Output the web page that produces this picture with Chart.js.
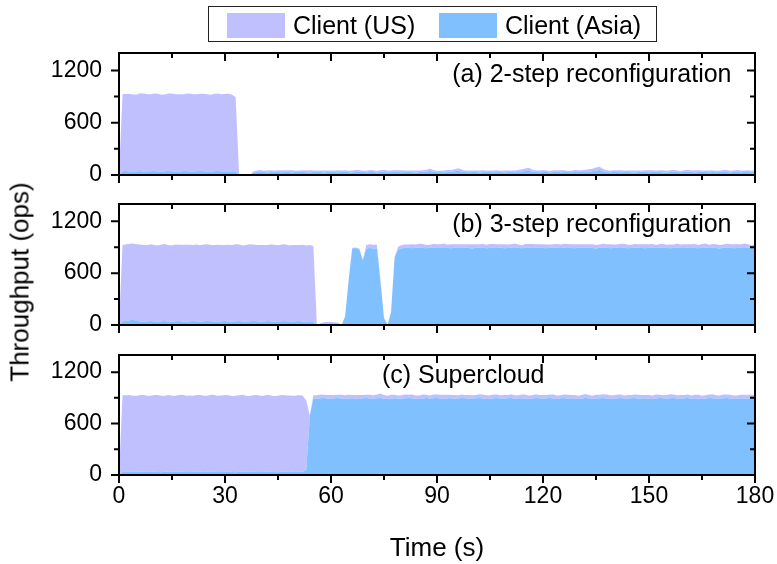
<!DOCTYPE html>
<html lang="en">
<head>
<meta charset="UTF-8">
<title>Throughput during reconfiguration</title>
<script src="https://cdn.jsdelivr.net/npm/chart.js"></script>
<style>
  body { margin: 0; background: #fff; font-family: "Liberation Sans", Arial, sans-serif; }
  #wrap { position: relative; width: 777px; height: 564px; overflow: hidden; }
  #wrap canvas { position: absolute; left: 0; top: 0; }
  .legend {
    position: absolute; left: 208px; top: 6px; width: 447px; height: 34px;
    border: 1.5px solid #222;
  }
  .legend .sw { position: absolute; top: 6px; width: 58px; height: 25px; }
  .legend .lbl { position: absolute; top: 0; line-height: 36px; font-size: 25px; color: #000; white-space: nowrap; }
  .ytitle {
    position: absolute; left: 20px; top: 282px; font-size: 26px; color: #000; white-space: nowrap;
    transform: translate(-50%, -50%) rotate(-90deg);
  }
</style>
</head>
<body>
<div id="wrap">
  <canvas id="p0" width="777" height="564"></canvas>
  <canvas id="p1" width="777" height="564"></canvas>
  <canvas id="p2" width="777" height="564"></canvas>
  <div class="legend" id="legend"></div>
  <div class="ytitle">Throughput (ops)</div>
</div>
<script>
// time axis, one sample per second
const seconds = [
  0,1,2,3,4,5,6,7,8,9,10,11,12,13,14,15,16,17,18,19,
  20,21,22,23,24,25,26,27,28,29,30,31,32,33,34,35,36,37,38,39,
  40,41,42,43,44,45,46,47,48,49,50,51,52,53,54,55,56,57,58,59,
  60,61,62,63,64,65,66,67,68,69,70,71,72,73,74,75,76,77,78,79,
  80,81,82,83,84,85,86,87,88,89,90,91,92,93,94,95,96,97,98,99,
  100,101,102,103,104,105,106,107,108,109,110,111,112,113,114,115,116,117,118,119,
  120,121,122,123,124,125,126,127,128,129,130,131,132,133,134,135,136,137,138,139,
  140,141,142,143,144,145,146,147,148,149,150,151,152,153,154,155,156,157,158,159,
  160,161,162,163,164,165,166,167,168,169,170,171,172,173,174,175,176,177,178,179,
  180
];

const xTicks = [0, 30, 60, 90, 120, 150, 180];
const xMinorTicks = [15, 45, 75, 105, 135, 165];
const yTicks = [0, 600, 1200];
const yMinorTicks = [300, 900];

const seriesNames = ['Client (US)', 'Client (Asia)'];
const US_COLOR = '#c0c0ff';
const ASIA_COLOR = '#80c0ff';

// (a) 2-step reconfiguration: ops/s per client, US stacked on Asia
const asiaA = [
  0,42,45,40,38,44,47,41,39,43, 46,40,37,42,48,44,40,38,43,45,
  41,39,44,46,42,40,38,43,47,44, 41,39,42,40,0,0,0,0,28,33,
  36,34,30,35,38,33,31,36,34,30, 33,37,35,31,29,34,36,33,30,35,
  38,34,31,33,36,32,30,34,37,33, 31,35,34,30,33,36,32,35,38,34,
  31,33,36,32,30,35,37,40,45,36, 32,34,31,35,38,42,48,40,34,31,
  35,33,30,34,37,33,31,35,33,30, 34,36,32,35,40,46,50,38,33,31,
  35,34,30,33,36,32,35,33,31,34, 37,33,36,40,44,52,58,42,35,32,
  34,36,31,33,35,32,30,34,36,33, 31,35,37,34,32,30,33,36,34,31,
  35,38,33,30,34,36,33,31,35,32, 34,37,33,30,34,36,32,35,33,31,
  34
];
const usA = [
  0,888,884,892,886,880,890,894,887,883, 889,893,885,881,888,891,886,890,884,887,
  893,889,882,886,891,888,884,890,887,883, 889,892,880,855,0,0,0,0,12,18,
  20,16,22,19,15,21,23,18,20,24, 17,15,19,22,25,18,16,20,22,17,
  15,19,23,20,18,16,21,24,19,15, 18,22,20,17,21,24,19,16,18,21,
  23,19,16,20,22,18,17,20,28,22, 18,16,20,23,19,24,30,22,18,21,
  17,19,23,20,16,18,22,19,17,21, 19,15,20,22,25,30,34,22,18,20,
  23,19,16,21,18,22,20,17,19,22, 18,21,24,26,28,33,38,26,20,17,
  21,19,23,18,16,20,22,19,17,21, 24,19,16,20,22,18,21,23,19,16,
  20,22,18,24,21,17,19,22,20,18, 16,21,23,19,17,22,20,18,21,19,
  20
];

// (b) 3-step reconfiguration
const asiaB = [
  0,42,45,55,62,48,40,38,44,46, 41,39,43,47,40,37,42,45,41,38,
  44,46,42,39,43,48,44,40,37,42, 45,41,39,43,46,40,38,44,47,42,
  39,41,45,43,38,40,44,46,41,39, 42,45,40,37,41,35,0,0,0,0,
  0,0,0,0,100,520,885,890,880,748, 885,890,886,884,500,80,0,150,780,875,
  888,892,896,889,894,898,891,887,893,897, 890,895,899,892,888,894,897,891,895,890,
  886,893,897,894,889,892,896,899,893,888, 891,895,898,892,889,894,897,890,893,896,
  891,887,893,898,894,890,895,899,892,888, 894,897,891,895,890,886,893,897,894,889,
  892,896,899,893,888,891,895,898,892,889, 894,897,890,893,896,891,887,893,898,894,
  890,895,899,892,888,894,897,891,895,890, 886,893,897,894,889,892,896,899,893,888,
  891
];
const usB = [
  0,884,888,885,880,886,890,887,883,889, 885,882,888,891,884,886,889,883,887,890,
  885,881,888,884,889,886,883,887,891,885, 882,888,886,890,884,881,887,889,885,883,
  888,886,882,887,890,884,886,889,883,887, 885,881,888,884,886,880,0,20,32,36,
  35,33,25,0,0,0,5,8,6,5, 40,45,42,44,20,5,0,0,10,30,
  38,40,36,44,38,42,47,39,35,41, 45,38,43,37,46,40,36,42,39,44,
  48,41,37,43,39,45,40,36,42,47, 41,38,44,39,35,43,40,46,41,37,
  42,45,39,36,43,40,44,38,41,47, 39,36,42,38,45,41,37,43,40,44,
  39,35,41,46,40,38,43,37,42,45, 39,41,36,44,40,38,45,39,42,37,
  43,40,36,44,39,42,47,38,41,45, 40,37,43,39,46,41,38,44,40,36,
  42
];

// (c) Supercloud
const asiaC = [
  0,36,40,38,35,39,42,37,34,38, 41,36,33,37,40,35,38,42,39,36,
  34,38,41,37,35,39,43,38,36,34, 37,40,36,33,38,41,37,35,39,36,
  34,38,42,37,35,33,37,40,36,38, 35,39,34,60,690,890,890,894,897,892,
  888,895,899,893,889,892,896,891,887,894, 898,893,890,895,897,891,888,893,896,892,
  889,894,898,895,890,887,893,897,891,895, 899,892,888,894,896,890,893,897,894,889,
  892,896,899,893,888,891,895,898,892,889, 894,897,890,893,896,891,887,893,898,894,
  890,895,899,892,888,894,897,891,895,890, 886,893,897,894,889,892,896,899,893,888,
  891,895,898,892,889,894,897,890,893,896, 891,887,893,898,894,890,895,899,892,888,
  894,897,891,895,890,886,893,897,894,889, 892,896,899,893,888,891,894,890,896,892,
  895
];
const usC = [
  0,893,889,895,891,886,892,896,890,887, 893,897,891,888,894,890,886,892,896,889,
  893,887,891,895,890,886,892,894,889,893, 896,890,887,893,891,895,889,886,892,896,
  890,888,894,891,887,893,895,889,892,886, 890,894,892,810,0,40,40,44,38,42,
  46,39,36,43,41,45,38,42,47,40, 37,43,39,44,55,41,38,44,40,36,
  42,46,39,43,37,41,45,40,36,43, 39,44,48,41,38,42,37,43,40,45,
  39,36,42,46,41,38,44,40,37,43, 39,45,41,36,42,47,40,38,44,39,
  43,37,41,46,40,36,42,45,39,43, 38,41,47,40,37,44,39,42,46,41,
  38,43,40,36,44,39,42,47,41,37, 43,40,45,39,36,42,46,40,38,44,
  39,43,37,41,45,40,38,42,47,41, 36,43,39,44,40,37,41,45,39,43,
  40
];

const panelTitles = ['(a) 2-step reconfiguration', '(b) 3-step reconfiguration', '(c) Supercloud'];
const titleStart = [94.3, 94.3, 74.4];   // seconds, left edge of the panel caption
const titleLevel = 1150;                 // ops, vertical centre of the caption

const panels = [
  { us: usA, asia: asiaA, top: 53, bottom: 175 },
  { us: usB, asia: asiaB, top: 204, bottom: 325 },
  { us: usC, asia: asiaC, top: 355, bottom: 475 }
];

[usA, asiaA, usB, asiaB, usC, asiaC].forEach((s, i) => {
  if (s.length !== seconds.length) throw new Error('series ' + i + ' has ' + s.length + ' values');
});

const FONT = '"Liberation Sans", Arial, sans-serif';

// box around each panel, ticks out on left/bottom, in on top/right
const frameTicks = {
  id: 'frameTicks',
  afterDraw(chart) {
    const { ctx, chartArea: a, scales: { x, y } } = chart;
    const seg = (x1, y1, x2, y2) => { ctx.moveTo(x1, y1); ctx.lineTo(x2, y2); };
    ctx.save();
    ctx.strokeStyle = '#000';
    ctx.lineWidth = 2;
    ctx.beginPath();
    ctx.rect(a.left, a.top, a.right - a.left, a.bottom - a.top);
    const xt = (v, len) => {
      const px = x.getPixelForValue(v);
      seg(px, a.bottom, px, a.bottom + len);
      seg(px, a.top, px, a.top + len);
    };
    const yt = (v, len) => {
      const py = y.getPixelForValue(v);
      seg(a.left - len, py, a.left, py);
      seg(a.right, py, a.right - len, py);
    };
    xTicks.forEach(v => xt(v, 8));
    xMinorTicks.forEach(v => xt(v, 5));
    yTicks.forEach(v => yt(v, 8));
    yMinorTicks.forEach(v => yt(v, 5));
    ctx.stroke();
    ctx.restore();
  }
};

const panelCaption = {
  id: 'panelCaption',
  afterDraw(chart, args, opts) {
    const { ctx, scales: { x, y } } = chart;
    ctx.save();
    ctx.font = '25px ' + FONT;
    ctx.fillStyle = '#000';
    ctx.textAlign = 'left';
    ctx.textBaseline = 'middle';
    ctx.fillText(opts.text, x.getPixelForValue(opts.x), y.getPixelForValue(opts.y));
    ctx.restore();
  }
};

panels.forEach((p, i) => {
  const last = i === panels.length - 1;
  new Chart(document.getElementById('p' + i), {
    type: 'line',
    data: {
      labels: seconds,
      datasets: [
        { label: seriesNames[1], data: p.asia, backgroundColor: ASIA_COLOR, fill: 'origin', borderWidth: 0, pointRadius: 0 },
        { label: seriesNames[0], data: p.us, backgroundColor: US_COLOR, fill: '-1', borderWidth: 0, pointRadius: 0 }
      ]
    },
    options: {
      responsive: false,
      animation: false,
      devicePixelRatio: 1,
      events: [],
      elements: { line: { tension: 0 } },
      layout: { padding: { top: p.top, right: 22, bottom: 0, left: 0 } },
      plugins: {
        legend: { display: false },
        tooltip: { enabled: false },
        panelCaption: { text: panelTitles[i], x: titleStart[i], y: titleLevel }
      },
      scales: {
        x: {
          type: 'linear', min: 0, max: 180,
          grid: { display: false, drawTicks: false },
          border: { display: false },
          afterBuildTicks: s => { s.ticks = xTicks.map(v => ({ value: v })); },
          afterFit: s => { s.height = 564 - p.bottom; s.paddingLeft = 0; s.paddingRight = 0; },
          ticks: { display: last, padding: 8, maxRotation: 0, autoSkip: false, color: '#000',
                   font: { family: FONT, size: 23 }, callback: v => String(v) },
          title: { display: last, text: 'Time (s)', color: '#000', padding: { top: 0, bottom: 0 }, font: { family: FONT, size: 26 } }
        },
        y: {
          min: 0, max: 1400, stacked: true,
          grid: { display: false, drawTicks: false },
          border: { display: false },
          afterBuildTicks: s => { s.ticks = yTicks.map(v => ({ value: v })); },
          afterFit: s => { s.width = 119; s.paddingTop = 0; s.paddingBottom = 0; },
          ticks: { padding: 17, color: '#000', font: { family: FONT, size: 23 }, callback: v => String(v) }
        }
      }
    },
    plugins: [frameTicks, panelCaption]
  });
});

// legend: US first, then Asia
const legend = document.getElementById('legend');
const legendItems = [
  { name: seriesNames[0], color: US_COLOR, sw: 18, lbl: 84 },
  { name: seriesNames[1], color: ASIA_COLOR, sw: 230, lbl: 296 }
];
legendItems.forEach(it => {
  const sw = document.createElement('div');
  sw.className = 'sw';
  sw.style.left = it.sw + 'px';
  sw.style.background = it.color;
  const lbl = document.createElement('div');
  lbl.className = 'lbl';
  lbl.style.left = it.lbl + 'px';
  lbl.textContent = it.name;
  legend.appendChild(sw);
  legend.appendChild(lbl);
});
</script>
</body>
</html>
